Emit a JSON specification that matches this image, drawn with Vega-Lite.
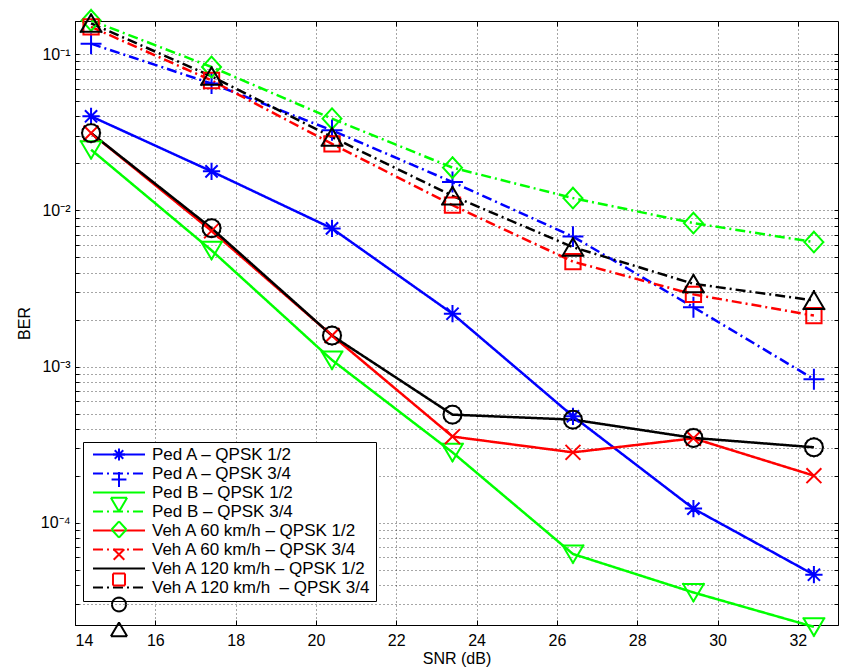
{
  "$schema": "https://vega.github.io/schema/vega-lite/v6.json",
  "width": 763,
  "height": 604,
  "autosize": {"type": "none"},
  "padding": {"left": 75, "top": 21, "right": 5, "bottom": 44},
  "background": "white",
  "config": {
    "view": {"stroke": "black", "strokeWidth": 1},
    "font": "Liberation Sans",
    "axis": {
      "domainColor": "black",
      "tickColor": "black",
      "labelColor": "black",
      "titleColor": "black",
      "labelFont": "Liberation Sans",
      "titleFont": "Liberation Sans",
      "labelFontSize": 16,
      "titleFontSize": 16,
      "titleFontWeight": "normal",
      "gridColor": "#000000",
      "gridOpacity": 0.7,
      "gridDash": [1, 3],
      "gridWidth": 1,
      "tickSize": -5
    }
  },
  "data": {
    "values": [
      {"series": "Ped A – QPSK 1/2", "snr": 14.4, "ber": 0.0401},
      {"series": "Ped A – QPSK 1/2", "snr": 17.4, "ber": 0.0178},
      {"series": "Ped A – QPSK 1/2", "snr": 20.4, "ber": 0.00767},
      {"series": "Ped A – QPSK 1/2", "snr": 23.4, "ber": 0.00218},
      {"series": "Ped A – QPSK 1/2", "snr": 26.4, "ber": 0.00048},
      {"series": "Ped A – QPSK 1/2", "snr": 29.4, "ber": 0.000123},
      {"series": "Ped A – QPSK 1/2", "snr": 32.4, "ber": 0.0000464},
      {"series": "Ped A – QPSK 3/4", "snr": 14.4, "ber": 0.117},
      {"series": "Ped A – QPSK 3/4", "snr": 17.4, "ber": 0.065},
      {"series": "Ped A – QPSK 3/4", "snr": 20.4, "ber": 0.0326},
      {"series": "Ped A – QPSK 3/4", "snr": 23.4, "ber": 0.0152},
      {"series": "Ped A – QPSK 3/4", "snr": 26.4, "ber": 0.0068},
      {"series": "Ped A – QPSK 3/4", "snr": 29.4, "ber": 0.0024},
      {"series": "Ped A – QPSK 3/4", "snr": 32.4, "ber": 0.00083},
      {"series": "Ped B – QPSK 1/2", "snr": 14.4, "ber": 0.0245},
      {"series": "Ped B – QPSK 1/2", "snr": 17.4, "ber": 0.00555},
      {"series": "Ped B – QPSK 1/2", "snr": 20.4, "ber": 0.0011},
      {"series": "Ped B – QPSK 1/2", "snr": 23.4, "ber": 0.000282},
      {"series": "Ped B – QPSK 1/2", "snr": 26.4, "ber": 0.000063},
      {"series": "Ped B – QPSK 1/2", "snr": 29.4, "ber": 0.0000357},
      {"series": "Ped B – QPSK 1/2", "snr": 32.4, "ber": 0.0000215},
      {"series": "Ped B – QPSK 3/4", "snr": 14.4, "ber": 0.165},
      {"series": "Ped B – QPSK 3/4", "snr": 17.4, "ber": 0.083},
      {"series": "Ped B – QPSK 3/4", "snr": 20.4, "ber": 0.0387},
      {"series": "Ped B – QPSK 3/4", "snr": 23.4, "ber": 0.0188},
      {"series": "Ped B – QPSK 3/4", "snr": 26.4, "ber": 0.012},
      {"series": "Ped B – QPSK 3/4", "snr": 29.4, "ber": 0.0083},
      {"series": "Ped B – QPSK 3/4", "snr": 32.4, "ber": 0.00627},
      {"series": "Veh A 60 km/h – QPSK 1/2", "snr": 14.4, "ber": 0.0313},
      {"series": "Veh A 60 km/h – QPSK 1/2", "snr": 17.4, "ber": 0.0074},
      {"series": "Veh A 60 km/h – QPSK 1/2", "snr": 20.4, "ber": 0.00158},
      {"series": "Veh A 60 km/h – QPSK 1/2", "snr": 23.4, "ber": 0.000356},
      {"series": "Veh A 60 km/h – QPSK 1/2", "snr": 26.4, "ber": 0.000282},
      {"series": "Veh A 60 km/h – QPSK 1/2", "snr": 29.4, "ber": 0.000347},
      {"series": "Veh A 60 km/h – QPSK 1/2", "snr": 32.4, "ber": 0.0002},
      {"series": "Veh A 60 km/h – QPSK 3/4", "snr": 14.4, "ber": 0.15},
      {"series": "Veh A 60 km/h – QPSK 3/4", "snr": 17.4, "ber": 0.068},
      {"series": "Veh A 60 km/h – QPSK 3/4", "snr": 20.4, "ber": 0.0267},
      {"series": "Veh A 60 km/h – QPSK 3/4", "snr": 23.4, "ber": 0.0108},
      {"series": "Veh A 60 km/h – QPSK 3/4", "snr": 26.4, "ber": 0.0047},
      {"series": "Veh A 60 km/h – QPSK 3/4", "snr": 29.4, "ber": 0.0029},
      {"series": "Veh A 60 km/h – QPSK 3/4", "snr": 32.4, "ber": 0.00212},
      {"series": "Veh A 120 km/h – QPSK 1/2", "snr": 14.4, "ber": 0.0313},
      {"series": "Veh A 120 km/h – QPSK 1/2", "snr": 17.4, "ber": 0.0077},
      {"series": "Veh A 120 km/h – QPSK 1/2", "snr": 20.4, "ber": 0.00158},
      {"series": "Veh A 120 km/h – QPSK 1/2", "snr": 23.4, "ber": 0.000492},
      {"series": "Veh A 120 km/h – QPSK 1/2", "snr": 26.4, "ber": 0.000457},
      {"series": "Veh A 120 km/h – QPSK 1/2", "snr": 29.4, "ber": 0.000349},
      {"series": "Veh A 120 km/h – QPSK 1/2", "snr": 32.4, "ber": 0.000304},
      {"series": "Veh A 120 km/h\u00a0 – QPSK 3/4", "snr": 14.4, "ber": 0.158},
      {"series": "Veh A 120 km/h\u00a0 – QPSK 3/4", "snr": 17.4, "ber": 0.0723},
      {"series": "Veh A 120 km/h\u00a0 – QPSK 3/4", "snr": 20.4, "ber": 0.0295},
      {"series": "Veh A 120 km/h\u00a0 – QPSK 3/4", "snr": 23.4, "ber": 0.0124},
      {"series": "Veh A 120 km/h\u00a0 – QPSK 3/4", "snr": 26.4, "ber": 0.00582},
      {"series": "Veh A 120 km/h\u00a0 – QPSK 3/4", "snr": 29.4, "ber": 0.00339},
      {"series": "Veh A 120 km/h\u00a0 – QPSK 3/4", "snr": 32.4, "ber": 0.00265}
    ]
  },
  "layer": [
    {
      "mark": {"type": "line", "strokeWidth": 2.5},
      "encoding": {
        "x": {
          "field": "snr",
          "type": "quantitative",
          "title": "SNR (dB)",
          "scale": {"domain": [14, 33], "nice": false, "zero": false},
          "axis": {"values": [14, 16, 18, 20, 22, 24, 26, 28, 30, 32], "grid": true, "labelPadding": 12, "titlePadding": 2, "format": "d"}
        },
        "y": {
          "field": "ber",
          "type": "quantitative",
          "title": "BER",
          "scale": {"type": "log", "domain": [0.0000221, 0.1635], "nice": false},
          "axis": {
            "values": [0.00003, 0.00004, 0.00005, 0.00006, 0.00007, 0.00008, 0.00009, 0.0001, 0.0002, 0.0003, 0.0004, 0.0005, 0.0006, 0.0007, 0.0008, 0.0009, 0.001, 0.002, 0.003, 0.004, 0.005, 0.006, 0.007, 0.008, 0.009, 0.01, 0.02, 0.03, 0.04, 0.05, 0.06, 0.07, 0.08, 0.09, 0.1],
            "labelExpr": "datum.value == 0.1 ? '10⁻¹' : datum.value == 0.01 ? '10⁻²' : datum.value == 0.001 ? '10⁻³' : datum.value == 0.0001 ? '10⁻⁴' : ''",
            "grid": true,
            "labelPadding": 9,
            "titlePadding": 8,
            "tickSize": -4
          }
        },
        "color": {
          "field": "series",
          "type": "nominal",
          "scale": {
            "domain": ["Ped A – QPSK 1/2", "Ped A – QPSK 3/4", "Ped B – QPSK 1/2", "Ped B – QPSK 3/4", "Veh A 60 km/h – QPSK 1/2", "Veh A 60 km/h – QPSK 3/4", "Veh A 120 km/h – QPSK 1/2", "Veh A 120 km/h\u00a0 – QPSK 3/4"],
            "range": ["#0000ff", "#0000ff", "#00ff00", "#00ff00", "#ff0000", "#ff0000", "#000000", "#000000"]
          },
          "legend": {
            "orient": "none", "legendX": 8, "legendY": 421, "title": null,
            "symbolType": "M0,-1.17M0,1.17M-0.354,0L7,0", "symbolSize": 200, "symbolStrokeWidth": 2,
            "labelOffset": 48, "labelFontSize": 17, "labelFont": "Liberation Sans", "labelColor": "black", "labelLimit": 0,
            "padding": 4, "rowPadding": 0, "strokeColor": "black", "fillColor": "white", "cornerRadius": 0,
            "encode": {"symbols": {"update": {"strokeJoin": {"value": "round"}}}}
          }
        },
        "strokeDash": {
          "field": "series",
          "type": "nominal",
          "scale": {
            "domain": ["Ped A – QPSK 1/2", "Ped A – QPSK 3/4", "Ped B – QPSK 1/2", "Ped B – QPSK 3/4", "Veh A 60 km/h – QPSK 1/2", "Veh A 60 km/h – QPSK 3/4", "Veh A 120 km/h – QPSK 1/2", "Veh A 120 km/h\u00a0 – QPSK 3/4"],
            "range": [[1, 0], [10, 4, 2, 4], [1, 0], [10, 4, 2, 4], [1, 0], [10, 4, 2, 4], [1, 0], [10, 4, 2, 4]]
          },
          "legend": {
            "orient": "none", "legendX": 8, "legendY": 421, "title": null,
            "symbolType": "M0,-1.17M0,1.17M-0.354,0L7,0", "symbolSize": 200, "symbolStrokeWidth": 2,
            "labelOffset": 48, "labelFontSize": 17, "labelFont": "Liberation Sans", "labelColor": "black", "labelLimit": 0,
            "padding": 4, "rowPadding": 0, "strokeColor": "black", "fillColor": "white", "cornerRadius": 0,
            "encode": {"symbols": {"update": {"strokeJoin": {"value": "round"}}}}
          }
        }
      }
    },
    {
      "mark": {"type": "point", "filled": false, "size": 324, "strokeWidth": 2, "strokeCap": "square", "opacity": 1},
      "encoding": {
        "x": {
          "field": "snr",
          "type": "quantitative",
          "scale": {"domain": [14, 33], "nice": false, "zero": false},
          "axis": {"orient": "top", "values": [14, 16, 18, 20, 22, 24, 26, 28, 30, 32], "grid": false, "labels": false, "domain": false, "title": null, "tickSize": -5}
        },
        "y": {
          "field": "ber",
          "type": "quantitative",
          "scale": {"type": "log", "domain": [0.0000221, 0.1635], "nice": false},
          "axis": {
            "orient": "right",
            "values": [0.00003, 0.00004, 0.00005, 0.00006, 0.00007, 0.00008, 0.00009, 0.0001, 0.0002, 0.0003, 0.0004, 0.0005, 0.0006, 0.0007, 0.0008, 0.0009, 0.001, 0.002, 0.003, 0.004, 0.005, 0.006, 0.007, 0.008, 0.009, 0.01, 0.02, 0.03, 0.04, 0.05, 0.06, 0.07, 0.08, 0.09, 0.1],
            "grid": false, "labels": false, "domain": false, "title": null, "tickSize": -4
          }
        },
        "color": {
          "field": "series",
          "type": "nominal",
          "legend": {
            "orient": "none", "legendX": 31.5, "legendY": 421, "title": null,
            "symbolSize": 200, "symbolStrokeWidth": 2, "symbolFillColor": "transparent",
            "labelExpr": "' '", "labelOffset": 0, "labelFontSize": 17, "labelFont": "Liberation Sans", "labelLimit": 0,
            "padding": 4, "rowPadding": 0,
            "encode": {"symbols": {"update": {"strokeJoin": {"value": "round"}, "strokeCap": {"value": "square"}}}}
          }
        },
        "shape": {
          "field": "series",
          "type": "nominal",
          "scale": {
            "domain": ["Ped A – QPSK 1/2", "Ped A – QPSK 3/4", "Ped B – QPSK 1/2", "Ped B – QPSK 3/4", "Veh A 60 km/h – QPSK 1/2", "Veh A 60 km/h – QPSK 3/4", "Veh A 120 km/h – QPSK 1/2", "Veh A 120 km/h\u00a0 – QPSK 3/4"],
            "range": [
              "M0,-1.17M0,1.17M-0.85,0L0.85,0M0,-0.85L0,0.85M-0.6,-0.6L0.6,0.6M-0.6,0.6L0.6,-0.6",
              "M0,-1.17M0,1.17M-1.05,0L1.05,0M0,-1.05L0,1.05",
              "M0,-1.17M0,1.17M0,1L1.15,-0.95M1.15,-0.95L-1.15,-0.95M-1.15,-0.95L0,1",
              "M0,-1.17M0,1.17M0,-1.15L1.05,0M1.05,0L0,1.15M0,1.15L-1.05,0M-1.05,0L0,-1.15",
              "M0,-1.17M0,1.17M-0.75,-0.75L0.75,0.75M-0.75,0.75L0.75,-0.75",
              "M0,-1.17M0,1.17M-0.85,-0.85L0.85,-0.85M0.85,-0.85L0.85,0.85M0.85,0.85L-0.85,0.85M-0.85,0.85L-0.85,-0.85",
              "M0,-1.17M0,1.17M1,0L0.924,0.383M0.924,0.383L0.707,0.707M0.707,0.707L0.383,0.924M0.383,0.924L0,1M0,1L-0.383,0.924M-0.383,0.924L-0.707,0.707M-0.707,0.707L-0.924,0.383M-0.924,0.383L-1,0M-1,0L-0.924,-0.383M-0.924,-0.383L-0.707,-0.707M-0.707,-0.707L-0.383,-0.924M-0.383,-0.924L0,-1M0,-1L0.383,-0.924M0.383,-0.924L0.707,-0.707M0.707,-0.707L0.924,-0.383M0.924,-0.383L1,0",
              "M0,-1.17M0,1.17M0,-1L1.15,0.95M1.15,0.95L-1.15,0.95M-1.15,0.95L0,-1"
            ]
          },
          "legend": {
            "orient": "none", "legendX": 31.5, "legendY": 421, "title": null,
            "symbolSize": 200, "symbolStrokeWidth": 2, "symbolFillColor": "transparent",
            "labelExpr": "' '", "labelOffset": 0, "labelFontSize": 17, "labelFont": "Liberation Sans", "labelLimit": 0,
            "padding": 4, "rowPadding": 0,
            "encode": {"symbols": {"update": {"strokeJoin": {"value": "round"}, "strokeCap": {"value": "square"}}}}
          }
        }
      }
    }
  ],
  "resolve": {
    "scale": {"x": "independent", "y": "independent"},
    "axis": {"x": "independent", "y": "independent"},
    "legend": {"color": "independent", "strokeDash": "independent", "shape": "independent"}
  }
}
